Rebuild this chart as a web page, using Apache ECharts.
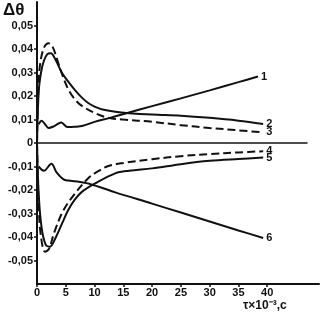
<!DOCTYPE html>
<html>
<head>
<meta charset="utf-8">
<script src="https://cdn.jsdelivr.net/npm/echarts@6/dist/echarts.min.js"></script>
<style>
  html, body { margin: 0; padding: 0; background: #fff; }
  #chart { width: 325px; height: 318px; }
</style>
</head>
<body>
<div id="chart"></div>
<script>
// curve data: tau (x10^-3 s) and delta theta
const tau1 = [0.3, 0.8, 1.4, 2.0, 3.0, 4.2, 5.3, 6.5, 8, 10, 12.7, 16, 20, 25, 30, 35, 38.4];
const dTheta1 = [0.0080, 0.0095, 0.0080, 0.0064, 0.0072, 0.0087, 0.0068, 0.0069, 0.0073, 0.0090, 0.0107, 0.0130, 0.0157, 0.0190, 0.0224, 0.0259, 0.0283];

const tau2 = [0, 0.3, 0.7, 1.2, 1.8, 2.4, 3.2, 4.3, 5.4, 6.6, 7.8, 8.9, 10, 11.2, 13.6, 16, 20, 25, 30, 35, 39.3];
const dTheta2 = [0, 0.022, 0.030, 0.035, 0.0378, 0.0382, 0.0355, 0.030, 0.0262, 0.0225, 0.0193, 0.0170, 0.0155, 0.0144, 0.0133, 0.0127, 0.0121, 0.0116, 0.0107, 0.0095, 0.0081];

const tau3 = [0, 0.3, 0.7, 1.3, 2.0, 2.7, 3.7, 4.4, 5.4, 6.6, 7.8, 10.1, 12.4, 15, 20, 25, 30, 35, 39.3];
const dTheta3 = [0, 0.027, 0.036, 0.041, 0.0425, 0.041, 0.034, 0.029, 0.023, 0.0185, 0.0158, 0.0127, 0.0107, 0.0100, 0.0090, 0.0076, 0.0064, 0.0054, 0.0045];

const tau4 = [0, 0.3, 0.7, 1.4, 2.1, 3.0, 4.6, 6.6, 8.9, 10.5, 12.4, 15, 20, 25, 30, 35, 39.3];
const dTheta4 = [0, -0.027, -0.040, -0.0463, -0.045, -0.038, -0.0286, -0.0215, -0.015, -0.0122, -0.0098, -0.0085, -0.0069, -0.0056, -0.0047, -0.0040, -0.0035];

const tau5 = [0, 0.3, 0.8, 1.5, 2.2, 3.2, 4.4, 5.4, 6.6, 7.8, 10.1, 13.6, 16, 20, 25, 30, 35, 39.3];
const dTheta5 = [0, -0.022, -0.036, -0.0432, -0.0442, -0.0405, -0.034, -0.0286, -0.024, -0.0208, -0.0172, -0.0129, -0.0118, -0.0108, -0.0090, -0.0076, -0.0068, -0.0062];

const tau6 = [0.3, 1.2, 2.5, 3.4, 4.6, 5.5, 6.6, 8, 8.9, 11, 13.6, 20, 25, 30, 35, 39.3];
const dTheta6 = [-0.0100, -0.0118, -0.0088, -0.0125, -0.0155, -0.0160, -0.0163, -0.0168, -0.0172, -0.0188, -0.0210, -0.0258, -0.0296, -0.0334, -0.0372, -0.0404];

const curveNames = ['1', '2', '3', '4', '5', '6'];
const xTicks = [0, 5, 10, 15, 20, 25, 30, 35, 40];
const yTicks = [-0.05, -0.04, -0.03, -0.02, -0.01, 0, 0.01, 0.02, 0.03, 0.04, 0.05];
const zeroLine = [[0, 0], [47, 0]];

const taus = [tau1, tau2, tau3, tau4, tau5, tau6];
const vals = [dTheta1, dTheta2, dTheta3, dTheta4, dTheta5, dTheta6];
const dashed = [false, false, true, true, false, false];

const font = 'Liberation Sans';

let myChart = echarts.init(document.getElementById('chart'), null, { renderer: 'canvas' });

let series = curveNames.map((name, i) => ({
    name: name,
    type: 'line',
    smooth: 0.35,
    showSymbol: false,
    data: taus[i].map((t, k) => [t, vals[i][k]]),
    lineStyle: { color: '#111', width: 2, type: dashed[i] ? [8, 4] : 'solid' },
    endLabel: {
        show: true,
        formatter: name,
        distance: 3,
        color: '#111',
        fontFamily: font,
        fontWeight: 'bold',
        fontSize: 11
    }
}));

series.push({
    name: 'zero',
    type: 'line',
    showSymbol: false,
    data: zeroLine,
    lineStyle: { color: '#111', width: 1.5 }
});

myChart.setOption({
    animation: false,
    grid: { left: 37, right: 6, top: 2, bottom: 34 },
    xAxis: {
        type: 'value',
        min: 0,
        max: 49,
        axisLine: { onZero: false, lineStyle: { color: '#111', width: 2 } },
        axisTick: { customValues: xTicks, length: 3, lineStyle: { color: '#111', width: 1.5 } },
        axisLabel: {
            customValues: xTicks,
            margin: 3,
            color: '#111',
            fontFamily: font,
            fontWeight: 'bold',
            fontSize: 11
        },
        splitLine: { show: false }
    },
    yAxis: {
        type: 'value',
        min: -0.06,
        max: 0.06,
        axisLine: { lineStyle: { color: '#111', width: 2 } },
        axisTick: { customValues: yTicks, length: 3, lineStyle: { color: '#111', width: 1.5 } },
        axisLabel: {
            customValues: yTicks,
            margin: 4,
            color: '#111',
            fontFamily: font,
            fontWeight: 'bold',
            fontSize: 11,
            formatter: v => Math.abs(v) < 1e-9 ? '0' : v.toFixed(2).replace('.', ',')
        },
        splitLine: { show: false }
    },
    graphic: [
        {
            type: 'text', left: 3, top: 2,
            style: { text: 'Δθ', font: 'bold 17px ' + font, fill: '#111' }
        },
        {
            type: 'text', left: 243, top: 300,
            style: { text: 'τ×10⁻³,с', font: 'bold 12px ' + font, fill: '#111' }
        }
    ],
    series: series
});
</script>
</body>
</html>
